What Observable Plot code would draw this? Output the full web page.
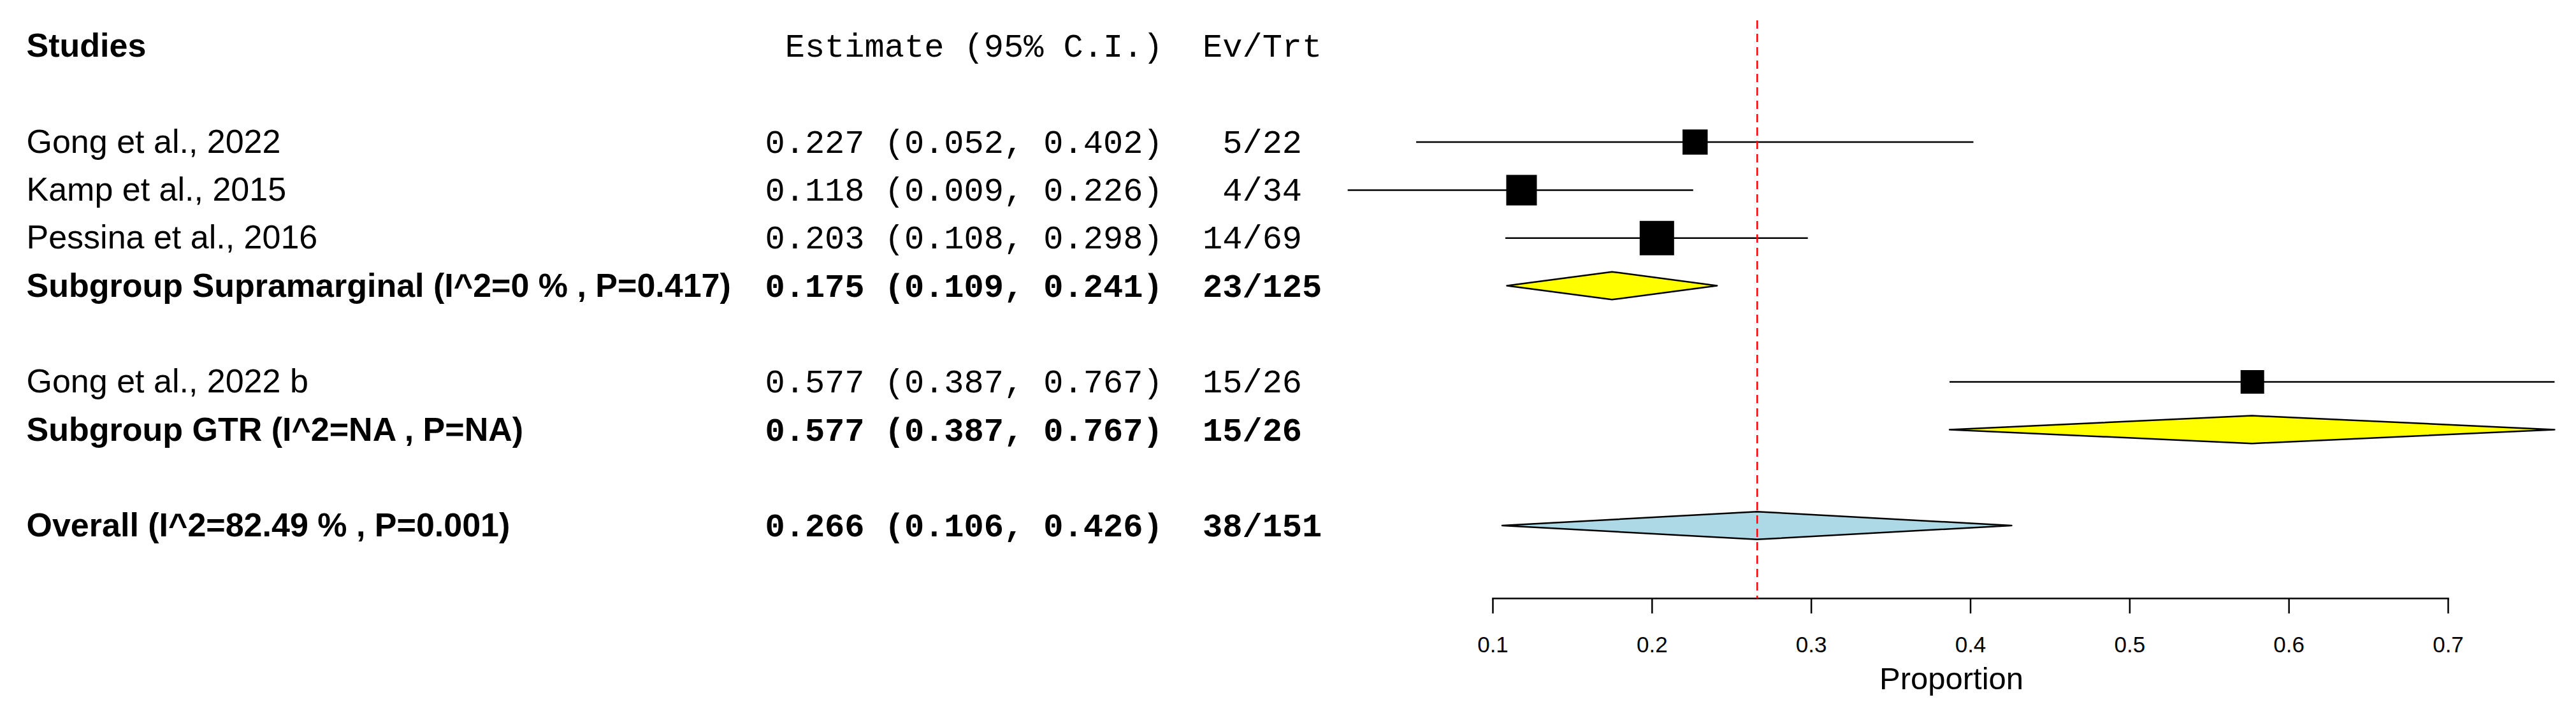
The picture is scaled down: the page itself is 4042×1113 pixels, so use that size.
<!DOCTYPE html>
<html>
<head>
<meta charset="utf-8">
<script src="https://cdn.jsdelivr.net/npm/d3@7"></script>
<script src="https://cdn.jsdelivr.net/npm/@observablehq/plot@0.6"></script>
<style>
  html, body { margin: 0; padding: 0; background: #fff; }
  #chart text { white-space: pre; }
</style>
</head>
<body>
<div id="chart"></div>
<script>
// ---- Data ----
const studyLabels  = ["Gong et al., 2022", "Kamp et al., 2015", "Pessina et al., 2016", "Gong et al., 2022 b"];
const studyGroup   = ["Supramarginal", "Supramarginal", "Supramarginal", "GTR"];
const studyEst     = [0.227, 0.118, 0.203, 0.577];
const studyLower   = [0.052, 0.009, 0.108, 0.387];
const studyUpper   = [0.402, 0.226, 0.298, 0.767];
const studyEvents  = [5, 4, 14, 15];
const studyTotals  = [22, 34, 69, 26];
const studyWeights = [19.1, 28.3, 35.8, 16.8]; // estimated % weight (box area)

const subgroupNames  = ["Supramarginal", "GTR"];
const subgroupLabels = ["Subgroup Supramarginal (I^2=0 % , P=0.417)", "Subgroup GTR (I^2=NA , P=NA)"];
const subgroupEst    = [0.175, 0.577];
const subgroupLower  = [0.109, 0.387];
const subgroupUpper  = [0.241, 0.767];
const subgroupEvents = [23, 15];
const subgroupTotals = [125, 26];

const overallLabel  = "Overall (I^2=82.49 % , P=0.001)";
const overallEst    = 0.266;
const overallLower  = 0.106;
const overallUpper  = 0.426;
const overallEvents = 38;
const overallTotal  = 151;

const headerLabel = "Studies";
const headerStats = " Estimate (95% C.I.)  Ev/Trt";
const xTicks      = [0.1, 0.2, 0.3, 0.4, 0.5, 0.6, 0.7];
const xTickLabels = ["0.1", "0.2", "0.3", "0.4", "0.5", "0.6", "0.7"];
const xLabel      = "Proportion";

// ---- Build tables ----
const fmt = d3.format(".3f");
const statsText = d => `${fmt(d.est)} (${fmt(d.lower)}, ${fmt(d.upper)})  ${(d.ev + "/" + d.n).padStart(5)}`;

const studies = studyLabels.map((label, i) => ({
  label, group: studyGroup[i], est: studyEst[i], lower: studyLower[i], upper: studyUpper[i],
  ev: studyEvents[i], n: studyTotals[i], weight: studyWeights[i]
}));
const subgroups = subgroupNames.map((g, i) => ({
  group: g, label: subgroupLabels[i], est: subgroupEst[i], lower: subgroupLower[i],
  upper: subgroupUpper[i], ev: subgroupEvents[i], n: subgroupTotals[i]
}));
const overall = {label: overallLabel, est: overallEst, lower: overallLower, upper: overallUpper, ev: overallEvents, n: overallTotal};

let r = 0;
const header = {row: r++, label: headerLabel, stats: headerStats};
r++; // blank row
subgroups.forEach(sg => {
  studies.filter(s => s.group === sg.group).forEach(s => { s.row = r++; });
  sg.row = r++;
  r++; // blank row
});
overall.row = r;

studies.forEach(d => d.stats = statsText(d));
subgroups.forEach(d => d.stats = statsText(d));
overall.stats = statsText(overall);

const H = 0.29; // diamond half-height in rows
const diamond = (d, id) => [
  {id, x: d.lower, y1: d.row, y2: d.row},
  {id, x: d.est, y1: d.row - H, y2: d.row + H},
  {id, x: d.upper, y1: d.row, y2: d.row}
];
const subDiamonds = subgroups.flatMap((d, i) => diamond(d, "s" + i));
const overallDiamond = diamond(overall, "o");

const allLower = [...studyLower, ...subgroupLower, overallLower];
const allUpper = [...studyUpper, ...subgroupUpper, overallUpper];
const xMid = (d3.min(allLower) + d3.max(allUpper)) / 2;

// ---- Layout ----
const W = 4042, HT = 1113;
const marginLeft = 2342, marginRight = W - 3841, marginTop = 32, marginBottom = HT - 939;
const sans = "'Liberation Sans', Arial, Helvetica, sans-serif";
const mono = "'Liberation Mono', 'Courier New', Courier, monospace";
const labelX = 41 - marginLeft;
const statsX = 1200 - marginLeft;
const fs = 52;

const boldRows = [...subgroups, overall];

const chart = Plot.plot({
  width: W,
  height: HT,
  marginLeft, marginRight, marginTop, marginBottom,
  style: {background: "white", fontFamily: sans, overflow: "visible"},
  x: {domain: [0.1, 0.7]},
  y: {domain: [0, overall.row], range: [72, 825], axis: null},
  r: {type: "sqrt", domain: [0, 100], range: [0, 50.93]},
  marks: [
    // CI lines
    Plot.ruleY(studies, {y: "row", x1: "lower", x2: "upper", stroke: "black", strokeWidth: 2.5}),
    // weight squares
    Plot.dot(studies, {x: "est", y: "row", r: "weight", symbol: "square", fill: "black"}),
    // diamonds
    Plot.areaY(subDiamonds, {x: "x", y1: "y1", y2: "y2", z: "id", fill: "#FFFF00", stroke: "black", strokeWidth: 2.5}),
    Plot.areaY(overallDiamond, {x: "x", y1: "y1", y2: "y2", z: "id", fill: "#ADD8E6", stroke: "black", strokeWidth: 2.5}),
    // left labels
    Plot.text([header], {y: "row", text: "label", frameAnchor: "left", dx: labelX, textAnchor: "start", lineAnchor: "middle", fontSize: fs, fontWeight: "bold", fill: "black"}),
    Plot.text(studies, {y: "row", text: "label", frameAnchor: "left", dx: labelX, textAnchor: "start", lineAnchor: "middle", fontSize: fs, fill: "black"}),
    Plot.text(boldRows, {y: "row", text: "label", frameAnchor: "left", dx: labelX, textAnchor: "start", lineAnchor: "middle", fontSize: fs, fontWeight: "bold", fill: "black"}),
    // stats columns
    Plot.text([header], {y: "row", text: "stats", frameAnchor: "left", dx: statsX, textAnchor: "start", lineAnchor: "middle", fontSize: fs, fontFamily: mono, fill: "black"}),
    Plot.text(studies, {y: "row", text: "stats", frameAnchor: "left", dx: statsX, textAnchor: "start", lineAnchor: "middle", fontSize: fs, fontFamily: mono, fill: "black"}),
    Plot.text(boldRows, {y: "row", text: "stats", frameAnchor: "left", dx: statsX, textAnchor: "start", lineAnchor: "middle", fontSize: fs, fontFamily: mono, fontWeight: "bold", fill: "black"}),
    // axis
    Plot.frame({anchor: "bottom", stroke: "black", strokeWidth: 2.5}),
    Plot.axisX({ticks: xTicks, tickFormat: (d, i) => xTickLabels[i], tickSize: 24, tickPadding: 36, fontSize: 35, label: null, stroke: "black", strokeWidth: 2.5, fill: "black"}),
    Plot.text([xLabel], {x: () => xMid, text: d => d, frameAnchor: "bottom", lineAnchor: "middle", dy: 127, fontSize: 49, fill: "black"}),
    // overall reference line
    Plot.ruleX([overall], {x: "est", stroke: "#FF0000", strokeWidth: 2.5, strokeDasharray: "13,8"})
  ]
});
document.getElementById("chart").appendChild(chart);
</script>
</body>
</html>
